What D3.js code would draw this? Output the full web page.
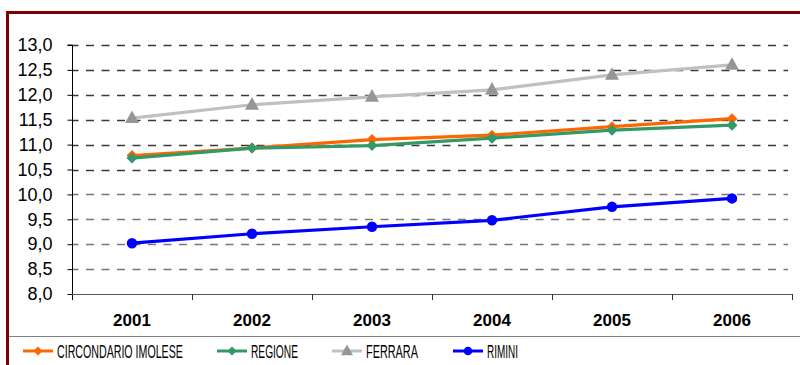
<!DOCTYPE html>
<html>
<head>
<meta charset="utf-8">
<script src="https://cdn.jsdelivr.net/npm/d3@7"></script>
<style>
  html, body { margin: 0; padding: 0; background: #fff; }
  svg { display: block; }
  text { font-family: "Liberation Sans", Arial, sans-serif; fill: #000; }
</style>
</head>
<body>
<svg id="chart" width="800" height="365"></svg>
<script>
// Years on the category axis
const years = ["2001", "2002", "2003", "2004", "2005", "2006"];

// Series values
const circondario = [10.78, 10.93, 11.10, 11.19, 11.36, 11.52];
const regione     = [10.73, 10.93, 10.98, 11.13, 11.29, 11.39];
const ferrara     = [11.53, 11.80, 11.96, 12.10, 12.40, 12.60];
const rimini      = [9.02, 9.21, 9.35, 9.48, 9.75, 9.92];

// Value axis ticks
const yTicks = [8.0, 8.5, 9.0, 9.5, 10.0, 10.5, 11.0, 11.5, 12.0, 12.5, 13.0];

const seriesNames = ["CIRCONDARIO IMOLESE", "REGIONE", "FERRARA", "RIMINI"];

const series = [
  { name: seriesNames[2], values: ferrara,     line: "#C0C0C0", fill: "#969696", symbol: "triangle" },
  { name: seriesNames[0], values: circondario, line: "#FF6600", fill: "#FF6600", symbol: "diamond" },
  { name: seriesNames[1], values: regione,     line: "#339966", fill: "#339966", symbol: "diamond" },
  { name: seriesNames[3], values: rimini,      line: "#0000FF", fill: "#0000FF", symbol: "circle" }
];

const svg = d3.select("#chart");

// Outer frame (dark red), partly running off the canvas
svg.append("rect")
  .attr("x", 7.5).attr("y", 12.5)
  .attr("width", 900).attr("height", 500)
  .attr("fill", "none")
  .attr("stroke", "#800000")
  .attr("stroke-width", 3);

const plot = { left: 72, right: 792, top: 45, bottom: 294 };

const x = d3.scaleBand().domain(years).range([plot.left, plot.right]);
const cx = d => x(d) + x.bandwidth() / 2;
const y = d3.scaleLinear().domain([8, 13]).range([plot.bottom, plot.top]);

// Dashed horizontal gridlines
svg.append("g")
  .selectAll("line")
  .data(yTicks.filter(t => t > 8))
  .join("line")
  .attr("x1", plot.left).attr("x2", 788)
  .attr("y1", d => Math.round(y(d)) + 0.5)
  .attr("y2", d => Math.round(y(d)) + 0.5)
  .attr("stroke", d => d >= 10.5 ? "#3a3a3a" : "#777")
  .attr("stroke-width", 1.7)
  .attr("stroke-dasharray", "8,7.5")
  .attr("stroke-dashoffset", -14);

// Y axis
const yAxis = d3.axisLeft(y)
  .tickValues(yTicks)
  .tickSize(5)
  .tickPadding(15)
  .tickFormat(d => d3.format(".1f")(d).replace(".", ","));

const gy = svg.append("g")
  .attr("transform", `translate(${plot.left + 0.5},0)`)
  .call(yAxis);
gy.select(".domain").attr("stroke", "#000").attr("d", `M-5,${plot.top}H0V${plot.bottom + 6}`);
gy.selectAll(".tick line").attr("stroke", "#000");
gy.selectAll(".tick text")
  .style("font-size", "18px")
  .style("font-family", "'Liberation Sans', Arial, sans-serif")
  .attr("fill", "#000");

// X axis line with ticks at the category boundaries
const gx = svg.append("g");
gx.append("line")
  .attr("x1", plot.left).attr("x2", plot.right)
  .attr("y1", plot.bottom + 0.5).attr("y2", plot.bottom + 0.5)
  .attr("stroke", "#555").attr("stroke-width", 1.2);
gx.selectAll("line.tk")
  .data(years)
  .join("line")
  .attr("class", "tk")
  .attr("x1", d => x(d) + x.bandwidth() + 0.5)
  .attr("x2", d => x(d) + x.bandwidth() + 0.5)
  .attr("y1", plot.bottom).attr("y2", plot.bottom + 6)
  .attr("stroke", "#333");
gx.selectAll("text")
  .data(years)
  .join("text")
  .attr("x", d => cx(d))
  .attr("y", 326)
  .attr("text-anchor", "middle")
  .style("font-size", "17px")
  .style("font-weight", "bold")
  .text(d => d);

// Symbol generators
function symbolPath(type, size) {
  if (type === "diamond") {
    const h = size / 2;
    return `M0,${-h}L${h},0L0,${h}L${-h},0Z`;
  }
  if (type === "triangle") {
    const w = size / 2, hTop = size * 0.55, hBot = size * 0.35;
    return `M0,${-hTop}L${w},${hBot}L${-w},${hBot}Z`;
  }
  return d3.symbol().type(d3.symbolCircle).size(Math.PI * (size / 2) ** 2)();
}

const line = d3.line()
  .x((d, i) => cx(years[i]))
  .y(d => y(d));

series.forEach(s => {
  const g = svg.append("g");
  g.append("path")
    .datum(s.values)
    .attr("d", line)
    .attr("fill", "none")
    .attr("stroke", s.line)
    .attr("stroke-width", 3.2)
    .attr("stroke-linejoin", "round");
  const msize = s.symbol === "triangle" ? 14 : (s.symbol === "diamond" ? 11 : 10.5);
  g.selectAll("path.m")
    .data(s.values)
    .join("path")
    .attr("class", "m")
    .attr("transform", (d, i) => `translate(${cx(years[i])},${y(d)})`)
    .attr("d", symbolPath(s.symbol, msize))
    .attr("fill", s.fill);
});

// Legend separator
svg.append("line")
  .attr("x1", 9).attr("x2", 800)
  .attr("y1", 336.5).attr("y2", 336.5)
  .attr("stroke", "#808080").attr("stroke-width", 1);

// Legend: condensed labels, squeezed horizontally to fit each slot
const legendItems = [
  { s: series[1], x0: 23, tx: 57, tw: 126 },
  { s: series[2], x0: 217, tx: 251, tw: 47 },
  { s: series[0], x0: 332, tx: 366, tw: 52 },
  { s: series[3], x0: 453, tx: 487, tw: 31 }
];
const lg = svg.append("g");
legendItems.forEach(it => {
  const ly = 351;
  lg.append("line")
    .attr("x1", it.x0).attr("x2", it.x0 + 30)
    .attr("y1", ly).attr("y2", ly)
    .attr("stroke", it.s.line).attr("stroke-width", 3);
  const ms = it.s.symbol === "triangle" ? 12 : (it.s.symbol === "diamond" ? 9 : 8.5);
  lg.append("path")
    .attr("transform", `translate(${it.x0 + 15},${ly})`)
    .attr("d", symbolPath(it.s.symbol, ms))
    .attr("fill", it.s.fill);
  const t = lg.append("text")
    .attr("x", 0).attr("y", 0)
    .style("font-size", "17.5px")
    .text(it.s.name);
  const natural = t.node().getComputedTextLength() || it.tw;
  t.attr("transform", `translate(${it.tx},357.5) scale(${it.tw / natural},1)`);
});
</script>
</body>
</html>
